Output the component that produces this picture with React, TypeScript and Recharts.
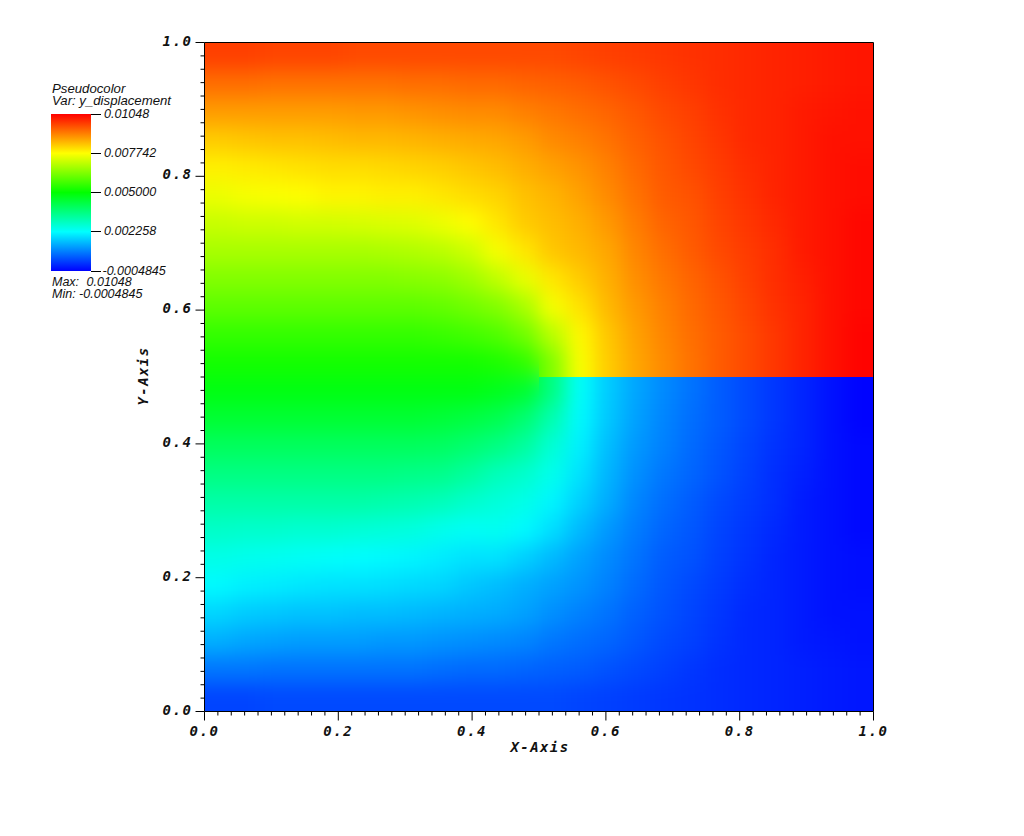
import React from "react";
import { ScatterChart, Scatter, XAxis, YAxis, ReferenceLine } from "recharts";

// Field values, y_displacement in units of 1e-4. Top row first.
const COLUMN_X = [0.0208,0.0625,0.1042,0.1458,0.1875,0.2292,0.2708,0.3125,0.3542,0.3958,0.4375,0.4792,0.5208,0.5625,0.6042,0.6458,0.6875,0.7292,0.7708,0.8125,0.8542,0.8958,0.9375,0.9792];
const ROW_Y = [0.9792,0.9375,0.8958,0.8542,0.8125,0.7708,0.7292,0.6875,0.6458,0.6042,0.5625,0.5208,0.4792,0.4375,0.3958,0.3542,0.3125,0.2708,0.2292,0.1875,0.1458,0.1042,0.0625,0.0208];
const ROW_00 = [98,98,97.5,97.5,97.5,97,97,97,97,97,97,97,97,97.5,98,98.5,99,99.5,100,100.5,101,101.5,102,102.5];
const ROW_01 = [93,93,92.5,92.5,92.5,92.5,92.5,93,93,93.5,93.5,94,94.5,95,96,97,98,99,100,100.5,101,101.5,102,102.5];
const ROW_02 = [88,88,88,88,88,88.5,88.5,89,89.5,90,90,91,92,93,94,95.5,97,98,99.5,100.5,101,102,102.5,103];
const ROW_03 = [83,83.5,84,84,84.5,85,85,85.5,86,86.5,87,88,90,91,92.5,94.5,96,97.5,99,100.5,101,102,103,103];
const ROW_04 = [79,79.5,80,80.5,81,81,81.5,82,82.5,83.5,84.5,86,87.5,89,91,93.5,95.5,97,98.5,100,101,102,103,103.5];
const ROW_05 = [75.5,76.5,77,77.5,78.5,78.5,79,79,80,81,82,84,85.5,87.5,90,92.5,95,96,98,99.5,101,102,103,103.5];
const ROW_06 = [71.5,72,72,72.5,72.5,73,73.5,74,75.5,77.5,80,83,84.5,86,88.5,91.5,94,95.5,97.5,99,100.5,102,103,104];
const ROW_07 = [68,68,68,68,68,68,68.5,69,70,72,76.5,80,83.5,85,87,90.5,93,95,97,98.5,100,102,103,104];
const ROW_08 = [64,64,64,64,64,64,64,64.5,65,67,70.5,75,80,83,86,89.5,92,94,96,98,100,101.5,103,104];
const ROW_09 = [60,60,60,60,60,60,60,60,60.5,62,64,68,76.5,80.5,85,88.5,91,93.5,95.5,97.5,99.5,101,103,104];
const ROW_10 = [55.5,55.5,55.5,55.5,55.5,55.5,55.5,55.5,56,57,58.5,62,70,78,83.5,87.5,90.5,93,95,97,99,101,103,104.5];
const ROW_11 = [52,52,52,52,52,52,52,52,52,52,53,55,64,77,83,87,90,92.5,95,97,99,101,103,104.5];
const ROW_12 = [48,48,48,48,48,48,48,48,48,48,47,45,36,23,17,13,10,7.5,5,3,1,-1,-3,-4.5];
const ROW_13 = [44.5,44.5,44.5,44.5,44.5,44.5,44.5,44.5,44,43,41.5,38,31,22,16.5,12.5,9.5,7,5,3,1,-1,-3,-4.5];
const ROW_14 = [40,40,40,40,40,40,40,40,39.5,38,36,33,27,21,15.5,11.5,9,6.5,4.5,2.5,0.5,-1,-3,-4];
const ROW_15 = [36,36,36,36,36,36,36,35.5,35,33,30,28,24.5,19.5,14.5,10.5,8,6,4,2,0,-1.5,-3,-4];
const ROW_16 = [32,32,32,32,32,32,31.5,31,30,28,26.5,25,21.5,17.5,13.5,9.5,7,5,3,1.5,0,-2,-3,-4];
const ROW_17 = [28.5,28,28,27.5,27.5,27,26.5,26,24.5,23.5,24,22,19,15,11.5,8.5,6,4.5,2.5,1,-0.5,-2,-3,-4];
const ROW_18 = [25,24.5,24,23.5,23,22.5,22,21.5,20.5,19.5,19.5,17.5,15,12.5,10,7.5,5,4,2,0.5,-1,-2,-3,-3.5];
const ROW_19 = [22,21,20.5,20,19.5,19.5,19,18.5,18,16.5,15.5,14,12.5,11,9,6.5,4.5,3,1.5,0,-1,-2,-3,-3.5];
const ROW_20 = [18,17,16.5,16,16,15.5,15.5,15,14.5,14,13.5,12.5,10.5,9,7.5,5.5,4,2.5,1,-0.5,-1,-2,-3,-3];
const ROW_21 = [14,13,12.5,12,12,12,11.5,11.5,11,10.5,10,9.5,8,7,6,4.5,3,2,0.5,-0.5,-1,-2,-2.5,-3];
const ROW_22 = [8,8,7.5,7.5,7.5,7.5,7.5,7.5,7,6.5,6.5,6,5.5,5,4,3,2,1,0,-0.5,-1,-1.5,-2,-2.5];
const ROW_23 = [2.5,2.5,3,3,3,3,3,3,3,3,3,3,3,2.5,2,1.5,1,0.5,0,-0.5,-1,-1.5,-2,-2.5];
const ROWS = [ROW_00,ROW_01,ROW_02,ROW_03,ROW_04,ROW_05,ROW_06,ROW_07,ROW_08,ROW_09,ROW_10,ROW_11,ROW_12,ROW_13,ROW_14,ROW_15,ROW_16,ROW_17,ROW_18,ROW_19,ROW_20,ROW_21,ROW_22,ROW_23];

const V_MIN = -0.0004845;
const V_MAX = 0.01048;
const RAMP = ["#0000ff", "#00ffff", "#00ff00", "#ffff00", "#ff0000"];
const RAMP_RGB = [[0,0,255],[0,255,255],[0,255,0],[255,255,0],[255,0,0]];
const LEGEND_LABELS = ["0.01048", "0.007742", "0.005000", "0.002258", "-0.0004845"];
const MAJOR_TICKS = [0, 0.2, 0.4, 0.6, 0.8, 1];
const MINOR_STEP = 0.02;
const AXIS_TICKS = Array.from({ length: 51 }, (_, i) => Math.round(i * MINOR_STEP * 100) / 100);

type CellDatum = { x: number; y: number; v: number; col: number; row: number };
const ALL_CELLS: CellDatum[] = [];
ROWS.forEach((r, row) =>
  r.forEach((u, col) => ALL_CELLS.push({ x: COLUMN_X[col], y: ROW_Y[row], v: u * 1e-4, col, row }))
);
const UPPER_CELLS = ALL_CELLS.filter((c) => c.row < 12);
const LOWER_CELLS = ALL_CELLS.filter((c) => c.row >= 12);

function colorOf(v: number) {
  const t = Math.min(1, Math.max(0, (v - V_MIN) / (V_MAX - V_MIN))) * 4;
  const i = Math.min(3, Math.floor(t));
  const f = t - i;
  const a = RAMP_RGB[i];
  const b = RAMP_RGB[i + 1];
  return `rgb(${a.map((c, k) => Math.round(c + (b[k] - c) * f)).join(",")})`;
}

const PLOT = { left: 204.5, top: 42.5, size: 669 };
const CELL = PLOT.size / COLUMN_X.length;
const BLEED = 45;
const MONO = "'DejaVu Sans Mono', monospace";
const SANS = "'Liberation Sans', sans-serif";

const makeShape = (layer: "all" | "upper" | "lower") => (props: any) => {
  const { cx, cy, payload } = props;
  let x0 = cx - CELL / 2 - 0.5;
  let x1 = cx + CELL / 2 + 0.5;
  let y0 = cy - CELL / 2 - 0.5;
  let y1 = cy + CELL / 2 + 0.5;
  if (payload.col === 0) x0 -= BLEED;
  if (payload.col === COLUMN_X.length - 1) x1 += BLEED;
  if (payload.row === 0 || (layer === "lower" && payload.row === 12)) y0 -= BLEED;
  if (payload.row === ROWS.length - 1 || (layer === "upper" && payload.row === 11)) y1 += BLEED;
  return <rect x={x0} y={y0} width={x1 - x0} height={y1 - y0} fill={colorOf(payload.v)} />;
};

const isMajor = (v: number) => MAJOR_TICKS.some((m) => Math.abs(m - v) < 1e-6);

const XTick = (props: any) => {
  const { x, payload } = props;
  const major = isMajor(payload.value);
  const base = PLOT.top + PLOT.size;
  return (
    <g>
      <line x1={x} x2={x} y1={base} y2={base + (major ? 9 : 4)} stroke="#000" />
      {major && (
        <text x={x} y={base + 24.5} textAnchor="middle" fontFamily={MONO} fontWeight="bold" fontStyle="italic" fontSize={14} letterSpacing={1.6} fill="#111">
          {payload.value.toFixed(1)}
        </text>
      )}
    </g>
  );
};

const YTick = (props: any) => {
  const { y, payload } = props;
  const major = isMajor(payload.value);
  return (
    <g>
      <line x1={PLOT.left} x2={PLOT.left - (major ? 9 : 4)} y1={y} y2={y} stroke="#000" />
      {major && (
        <text x={PLOT.left - 12} y={y + 3} textAnchor="end" fontFamily={MONO} fontWeight="bold" fontStyle="italic" fontSize={14} letterSpacing={1.6} fill="#111">
          {payload.value.toFixed(1)}
        </text>
      )}
    </g>
  );
};

const headerStyle = { fontFamily: SANS, fontStyle: "italic" as const, fontSize: 13.2, fill: "#111" };
const legendStyle = { fontFamily: SANS, fontStyle: "italic" as const, fontSize: 12.5, fill: "#111" };
const LEGEND_Y = [114.5, 153.5, 192.5, 231.5, 271.5];

export default function App() {
  return (
    <div style={{ position: "absolute", left: 0, top: 0, width: 1024, height: 836, background: "#fff" }}>
      <style>{`
        .layer-all { filter: url(#fieldBlur); clip-path: url(#clipAll); }
        .layer-upper { filter: url(#fieldBlur); clip-path: url(#clipUpper); }
        .layer-lower { filter: url(#fieldBlur); clip-path: url(#clipLower); }
      `}</style>
      <ScatterChart width={1024} height={836} margin={{ top: PLOT.top, right: 150.5, bottom: 84.5, left: 144.5 }}>
        <defs>
          <filter id="fieldBlur" filterUnits="userSpaceOnUse" x="0" y="0" width="1024" height="836" colorInterpolationFilters="sRGB">
            <feGaussianBlur stdDeviation="10" />
          </filter>
          <clipPath id="clipAll" clipPathUnits="userSpaceOnUse">
            <rect x={205} y={43} width={668} height={668} />
          </clipPath>
          <clipPath id="clipUpper" clipPathUnits="userSpaceOnUse">
            <rect x={539} y={43} width={334} height={334} />
          </clipPath>
          <clipPath id="clipLower" clipPathUnits="userSpaceOnUse">
            <rect x={539} y={377} width={334} height={334} />
          </clipPath>
          <linearGradient id="rampGrad" x1="0" y1="1" x2="0" y2="0">
            {RAMP.map((c, i) => (
              <stop key={c} offset={i / (RAMP.length - 1)} stopColor={c} />
            ))}
          </linearGradient>
        </defs>
        <XAxis
          type="number"
          dataKey="x"
          domain={[0, 1]}
          ticks={AXIS_TICKS}
          interval={0}
          height={40}
          tickLine={false}
          axisLine={{ stroke: "#000" }}
          tick={<XTick />}
        />
        <YAxis
          type="number"
          dataKey="y"
          domain={[0, 1]}
          ticks={AXIS_TICKS}
          interval={0}
          width={60}
          tickLine={false}
          axisLine={{ stroke: "#000" }}
          tick={<YTick />}
        />
        <Scatter data={ALL_CELLS} className="layer-all" shape={makeShape("all")} isAnimationActive={false} />
        <Scatter data={UPPER_CELLS} className="layer-upper" shape={makeShape("upper")} isAnimationActive={false} />
        <Scatter data={LOWER_CELLS} className="layer-lower" shape={makeShape("lower")} isAnimationActive={false} />
        <ReferenceLine x={1} stroke="#000" />
        <ReferenceLine y={1} stroke="#000" />
        <text x={540} y={752} textAnchor="middle" fontFamily={MONO} fontWeight="bold" fontStyle="italic" fontSize={14} letterSpacing={1.4} fill="#111">X-Axis</text>
        <text x={148} y={376} textAnchor="middle" transform="rotate(-90 148 376)" fontFamily={MONO} fontWeight="bold" fontStyle="italic" fontSize={14} letterSpacing={1.4} fill="#111">Y-Axis</text>
        <text x={52} y={93} style={headerStyle}>Pseudocolor</text>
        <text x={52} y={105} style={headerStyle}>Var: y_displacement</text>
        <rect x={51} y={114} width={40} height={157} fill="url(#rampGrad)" />
        {LEGEND_LABELS.map((label, i) => (
          <g key={label}>
            <line x1={91} x2={101} y1={LEGEND_Y[i]} y2={LEGEND_Y[i]} stroke="#000" />
            <text x={i === 4 ? 102.5 : 104} y={LEGEND_Y[i] + 3} style={legendStyle}>{label}</text>
          </g>
        ))}
        <text x={52} y={286} style={legendStyle}>Max:</text>
        <text x={86.5} y={286} style={legendStyle}>0.01048</text>
        <text x={52} y={298} style={legendStyle}>Min: -0.0004845</text>
      </ScatterChart>
    </div>
  );
}
